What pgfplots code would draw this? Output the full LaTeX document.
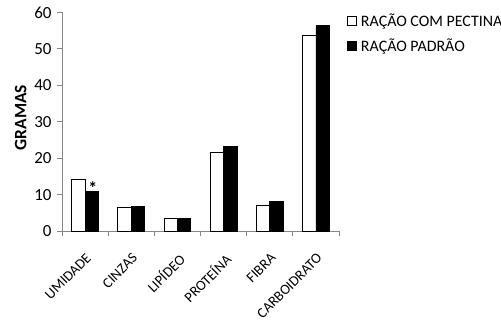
\documentclass[border=0pt]{standalone}
\usepackage{pgfplots}
\pgfplotsset{compat=1.18}
\usepackage{fontspec}
\setmainfont{Carlito}
\definecolor{axisgray}{HTML}{868686}
\begin{document}
\begin{tikzpicture}[font=\fontsize{16}{19}\selectfont]
\begin{axis}[
  scale only axis, width=277bp, height=218.6bp,
  ybar=0pt, bar width=0.292,
  xmin=-0.5, xmax=5.5, ymin=0, ymax=60,
  axis x line*=bottom, axis y line*=left,
  axis line style={axisgray, line width=0.8bp, -},
  every tick/.style={axisgray, line width=0.8bp},
  tick align=outside,
  xtick={0,1,2,3,4,5},
  xticklabels={UMIDADE,CINZAS,LIPÍDEO,PROTEÍNA,FIBRA,CARBOIDRATO},
  x tick label style={font=\fontsize{14.5}{17}\selectfont, rotate=45, anchor=north east, inner sep=1bp, xshift=-10.3bp, yshift=-10.6bp},
  xtick style={draw=none},
  extra x ticks={-0.5,0.5,1.5,2.5,3.5,4.5,5.5},
  extra x tick labels={},
  extra x tick style={xtick style={draw=axisgray}, major tick length=5bp},
  ytick={0,10,...,60},
  major tick length=5bp,
  y tick label style={font=\fontsize{17}{20}\selectfont, xshift=-2bp},
  /pgf/number format/assume math mode=true,
  ylabel={GRAMAS},
  ylabel style={font=\bfseries\fontsize{17.5}{20}\selectfont, yshift=1bp, xshift=4bp},
  legend style={draw=none, fill=none, at={(rel axis cs:1,1)}, anchor=north west, xshift=8bp, yshift=1bp,
    row sep=7bp, legend cell align=left, inner sep=0pt, nodes={inner sep=2bp}, font=\fontsize{16}{19}\selectfont},
  legend image code/.code={\draw[#1, line width=0.8bp] (0bp,-4.5bp) rectangle (9bp,4.5bp); \path (11bp,0bp);},
]
\addplot[draw=black, fill=white, line width=0.8bp] coordinates {(0,14.1)(1,6.4)(2,3.5)(3,21.6)(4,7.05)(5,53.6)};
\addplot[draw=black, fill=black, line width=0.8bp] coordinates {(0,10.9)(1,6.8)(2,3.5)(3,23.2)(4,8.05)(5,56.3)};
\legend{RAÇÃO COM PECTINA, RAÇÃO PADRÃO}
\node[font=\bfseries\fontsize{18}{20}\selectfont, anchor=south, inner sep=0bp, yshift=-3bp, xshift=1bp] at (axis cs:0.146,10.9) {*};
\end{axis}
\pgfresetboundingbox
\path[use as bounding box] ([shift={(-62bp,-89bp)}]current axis.south west) rectangle ++(501bp,320bp);
\end{tikzpicture}
\end{document}
